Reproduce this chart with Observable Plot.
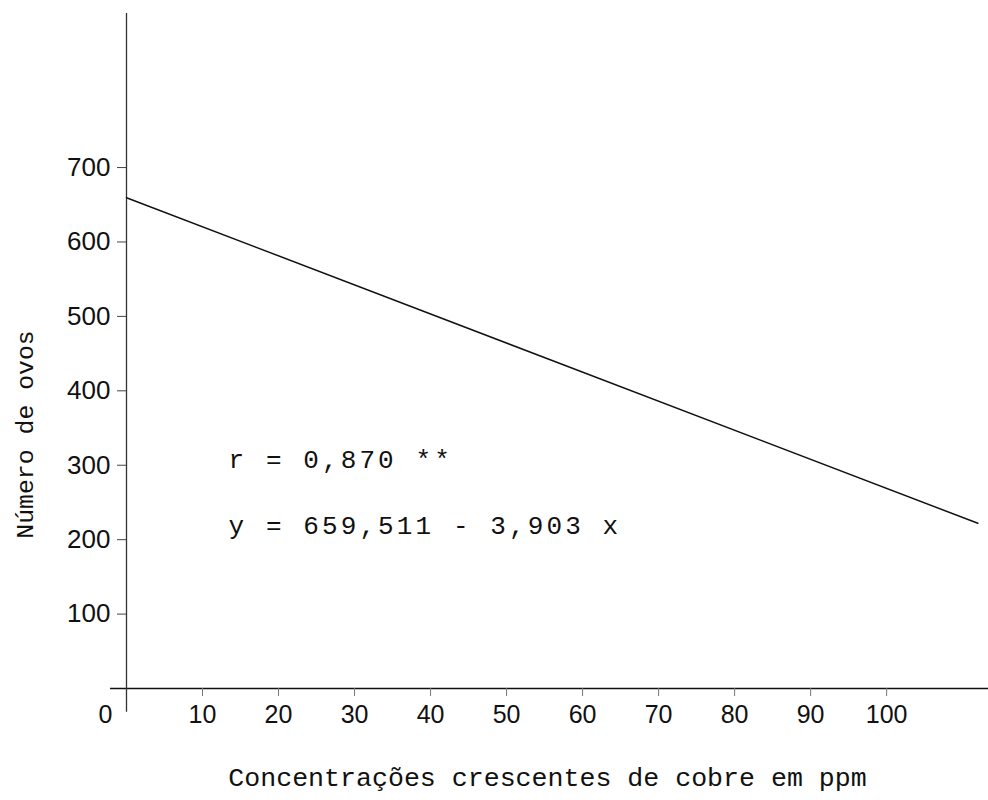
<!DOCTYPE html>
<html>
<head>
<meta charset="utf-8">
<script src="https://cdn.jsdelivr.net/npm/d3@7"></script>
<script src="https://cdn.jsdelivr.net/npm/@observablehq/plot@0.6"></script>
<style>
  html, body { margin: 0; padding: 0; background: #fff; }
</style>
</head>
<body>
<div id="chart"></div>
<script>
// Tick values
const xTicks = [10, 20, 30, 40, 50, 60, 70, 80, 90, 100];
const yTicks = [100, 200, 300, 400, 500, 600, 700];
// Regression line
const lineX = [0, 112];
const lineY = [659.5, 222];
// Texts
const yLabel = "Número de ovos";
const xLabel = "Concentrações crescentes de cobre em ppm";
const annoR = "r = 0,870 **";
const annoEq = "y = 659,511 - 3,903 x";

const lineData = lineX.map((x, i) => ({x, y: lineY[i]}));

const chart = Plot.plot({
  width: 988,
  height: 800,
  marginLeft: 126,
  marginRight: 0,
  marginTop: 13,
  marginBottom: 112,
  x: {domain: [0, 113.4]},
  y: {domain: [0, 907]},
  style: {background: "#fff", color: "#111"},
  marks: [
    Plot.ruleY([0], {x1: -2.1, x2: 113.4, stroke: "#111", strokeWidth: 1.5}),
    Plot.ruleX([0], {y1: -32, y2: 907, stroke: "#333", strokeWidth: 1.3}),
    Plot.axisY(yTicks, {tickSize: 9, tickPadding: 7, fontSize: 26, fontFamily: "Liberation Sans", label: null, stroke: "#444", fill: "#111"}),
    Plot.axisX(xTicks, {tickSize: 8, tickPadding: 9, fontSize: 25, fontFamily: "Liberation Sans", label: null, stroke: "#777", fill: "#111"}),
    Plot.text([0], {x: d => d, y: d => d, text: d => String(d), dx: -21, dy: 17, lineAnchor: "top", fontSize: 25, fontFamily: "Liberation Sans", fill: "#111"}),
    Plot.line(lineData, {x: "x", y: "y", stroke: "#111", strokeWidth: 1.5}),
    Plot.text([annoR], {frameAnchor: "top-left", dx: 102, dy: 454, lineAnchor: "bottom", textAnchor: "start", fontSize: 26, fontFamily: "Liberation Mono", fill: "#111"}),
    Plot.text([annoEq], {frameAnchor: "top-left", dx: 102, dy: 520, lineAnchor: "bottom", textAnchor: "start", fontSize: 26, fontFamily: "Liberation Mono", fill: "#111"}),
    Plot.text([yLabel], {frameAnchor: "left", dx: -101, dy: 83.5, rotate: -90, textAnchor: "middle", fontSize: 24.8, fontFamily: "Liberation Mono", fill: "#111"}),
    Plot.text([xLabel], {frameAnchor: "bottom", dx: -10, dy: 97, lineAnchor: "bottom", textAnchor: "middle", fontSize: 26.6, fontFamily: "Liberation Mono", fill: "#111"})
  ]
});
d3.select(chart).selectAll("text")
  .filter(function () { return this.textContent === annoR || this.textContent === annoEq; })
  .attr("letter-spacing", "3.1px");
document.getElementById("chart").appendChild(chart);
</script>
</body>
</html>
